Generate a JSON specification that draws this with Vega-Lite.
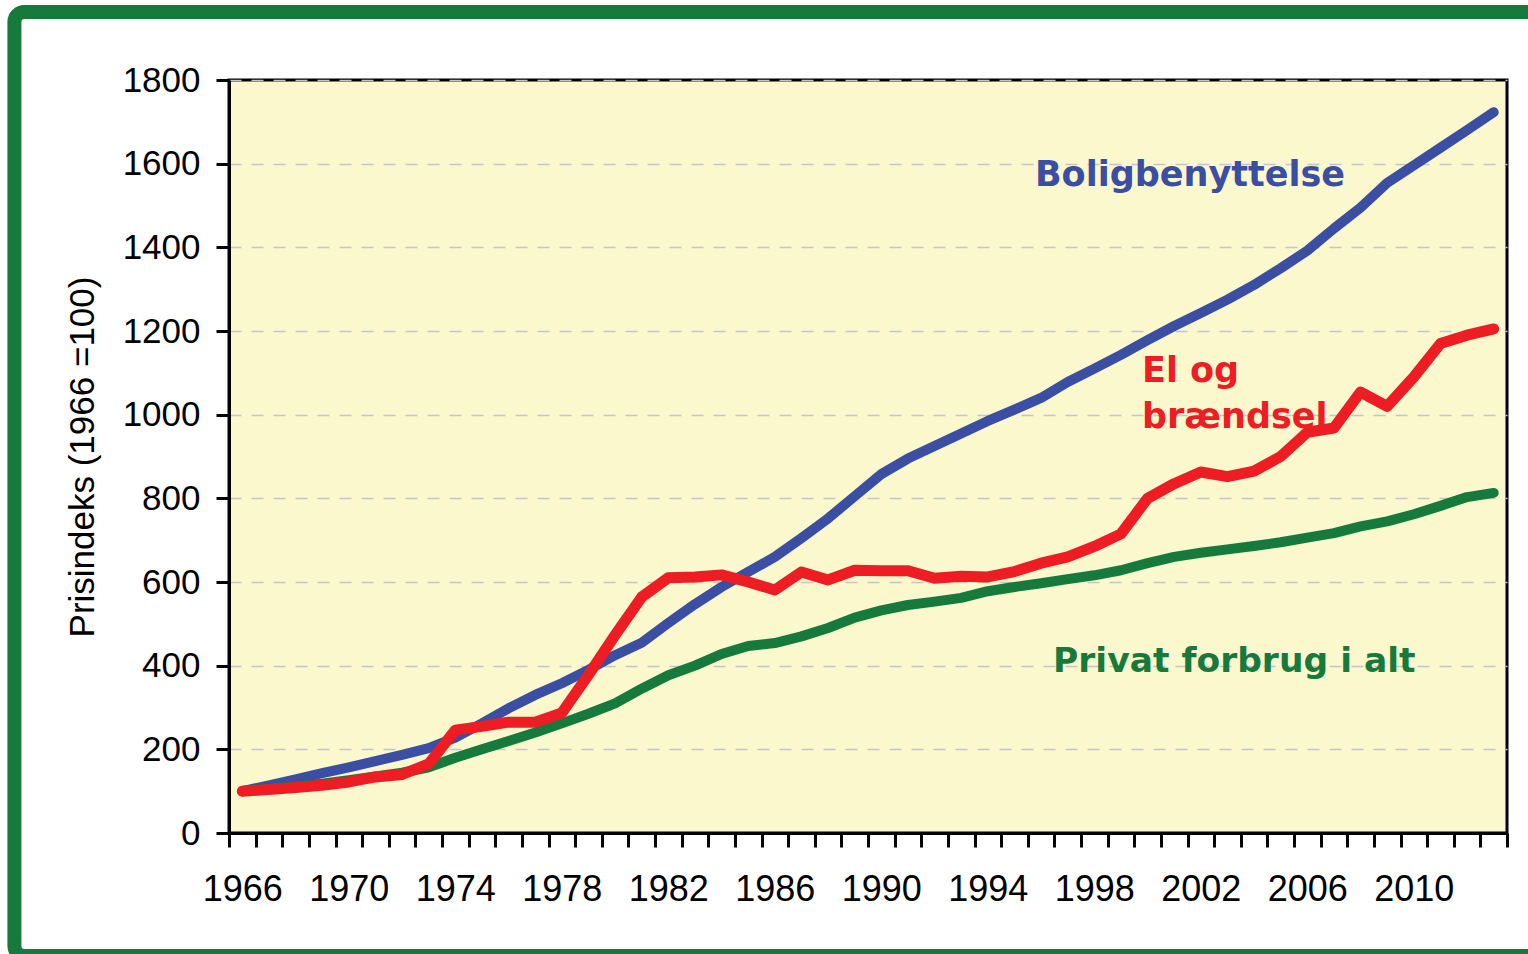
{
  "$schema": "https://vega.github.io/schema/vega-lite/v6.json",
  "width": 1278,
  "height": 753,
  "autosize": "none",
  "padding": {"left": 229, "top": 80, "right": 21, "bottom": 121},
  "background": "white",
  "config": {
    "view": {"fill": "#FAF8CC", "stroke": "#000000", "strokeWidth": 3},
    "axis": {"labelFont": "Liberation Sans", "titleFont": "Liberation Sans", "labelColor": "#000000", "titleColor": "#000000", "domainColor": "#000000", "tickColor": "#000000", "domainWidth": 3, "tickWidth": 3}
  },
  "datasets": {
    "prices": [
      {"year": 1966, "series": "Boligbenyttelse", "value": 100},
      {"year": 1967, "series": "Boligbenyttelse", "value": 114},
      {"year": 1968, "series": "Boligbenyttelse", "value": 128},
      {"year": 1969, "series": "Boligbenyttelse", "value": 143},
      {"year": 1970, "series": "Boligbenyttelse", "value": 157},
      {"year": 1971, "series": "Boligbenyttelse", "value": 172},
      {"year": 1972, "series": "Boligbenyttelse", "value": 187},
      {"year": 1973, "series": "Boligbenyttelse", "value": 203},
      {"year": 1974, "series": "Boligbenyttelse", "value": 228},
      {"year": 1975, "series": "Boligbenyttelse", "value": 262},
      {"year": 1976, "series": "Boligbenyttelse", "value": 298},
      {"year": 1977, "series": "Boligbenyttelse", "value": 330},
      {"year": 1978, "series": "Boligbenyttelse", "value": 358},
      {"year": 1979, "series": "Boligbenyttelse", "value": 390},
      {"year": 1980, "series": "Boligbenyttelse", "value": 425},
      {"year": 1981, "series": "Boligbenyttelse", "value": 455},
      {"year": 1982, "series": "Boligbenyttelse", "value": 502},
      {"year": 1983, "series": "Boligbenyttelse", "value": 547},
      {"year": 1984, "series": "Boligbenyttelse", "value": 588},
      {"year": 1985, "series": "Boligbenyttelse", "value": 624},
      {"year": 1986, "series": "Boligbenyttelse", "value": 660},
      {"year": 1987, "series": "Boligbenyttelse", "value": 705},
      {"year": 1988, "series": "Boligbenyttelse", "value": 752},
      {"year": 1989, "series": "Boligbenyttelse", "value": 805},
      {"year": 1990, "series": "Boligbenyttelse", "value": 858},
      {"year": 1991, "series": "Boligbenyttelse", "value": 895},
      {"year": 1992, "series": "Boligbenyttelse", "value": 925},
      {"year": 1993, "series": "Boligbenyttelse", "value": 955},
      {"year": 1994, "series": "Boligbenyttelse", "value": 985},
      {"year": 1995, "series": "Boligbenyttelse", "value": 1012},
      {"year": 1996, "series": "Boligbenyttelse", "value": 1040},
      {"year": 1997, "series": "Boligbenyttelse", "value": 1078},
      {"year": 1998, "series": "Boligbenyttelse", "value": 1110},
      {"year": 1999, "series": "Boligbenyttelse", "value": 1143},
      {"year": 2000, "series": "Boligbenyttelse", "value": 1178},
      {"year": 2001, "series": "Boligbenyttelse", "value": 1212},
      {"year": 2002, "series": "Boligbenyttelse", "value": 1243},
      {"year": 2003, "series": "Boligbenyttelse", "value": 1275},
      {"year": 2004, "series": "Boligbenyttelse", "value": 1310},
      {"year": 2005, "series": "Boligbenyttelse", "value": 1350},
      {"year": 2006, "series": "Boligbenyttelse", "value": 1392},
      {"year": 2007, "series": "Boligbenyttelse", "value": 1445},
      {"year": 2008, "series": "Boligbenyttelse", "value": 1495},
      {"year": 2009, "series": "Boligbenyttelse", "value": 1554},
      {"year": 2010, "series": "Boligbenyttelse", "value": 1596},
      {"year": 2011, "series": "Boligbenyttelse", "value": 1638},
      {"year": 2012, "series": "Boligbenyttelse", "value": 1680},
      {"year": 2013, "series": "Boligbenyttelse", "value": 1723},
      {"year": 1966, "series": "El og brændsel", "value": 100},
      {"year": 1967, "series": "El og brændsel", "value": 104},
      {"year": 1968, "series": "El og brændsel", "value": 109},
      {"year": 1969, "series": "El og brændsel", "value": 114},
      {"year": 1970, "series": "El og brændsel", "value": 122},
      {"year": 1971, "series": "El og brændsel", "value": 134},
      {"year": 1972, "series": "El og brændsel", "value": 140},
      {"year": 1973, "series": "El og brændsel", "value": 165},
      {"year": 1974, "series": "El og brændsel", "value": 246},
      {"year": 1975, "series": "El og brændsel", "value": 255},
      {"year": 1976, "series": "El og brændsel", "value": 265},
      {"year": 1977, "series": "El og brændsel", "value": 265},
      {"year": 1978, "series": "El og brændsel", "value": 287},
      {"year": 1979, "series": "El og brændsel", "value": 378},
      {"year": 1980, "series": "El og brændsel", "value": 473},
      {"year": 1981, "series": "El og brændsel", "value": 564},
      {"year": 1982, "series": "El og brændsel", "value": 610},
      {"year": 1983, "series": "El og brændsel", "value": 612},
      {"year": 1984, "series": "El og brændsel", "value": 617},
      {"year": 1985, "series": "El og brændsel", "value": 600},
      {"year": 1986, "series": "El og brændsel", "value": 581},
      {"year": 1987, "series": "El og brændsel", "value": 624},
      {"year": 1988, "series": "El og brændsel", "value": 605},
      {"year": 1989, "series": "El og brændsel", "value": 628},
      {"year": 1990, "series": "El og brændsel", "value": 627},
      {"year": 1991, "series": "El og brændsel", "value": 627},
      {"year": 1992, "series": "El og brændsel", "value": 609},
      {"year": 1993, "series": "El og brændsel", "value": 614},
      {"year": 1994, "series": "El og brændsel", "value": 612},
      {"year": 1995, "series": "El og brændsel", "value": 625},
      {"year": 1996, "series": "El og brændsel", "value": 645},
      {"year": 1997, "series": "El og brændsel", "value": 660},
      {"year": 1998, "series": "El og brændsel", "value": 685},
      {"year": 1999, "series": "El og brændsel", "value": 715},
      {"year": 2000, "series": "El og brændsel", "value": 800},
      {"year": 2001, "series": "El og brændsel", "value": 835},
      {"year": 2002, "series": "El og brændsel", "value": 863},
      {"year": 2003, "series": "El og brændsel", "value": 852},
      {"year": 2004, "series": "El og brændsel", "value": 865},
      {"year": 2005, "series": "El og brændsel", "value": 900},
      {"year": 2006, "series": "El og brændsel", "value": 958},
      {"year": 2007, "series": "El og brændsel", "value": 968},
      {"year": 2008, "series": "El og brændsel", "value": 1054},
      {"year": 2009, "series": "El og brændsel", "value": 1020},
      {"year": 2010, "series": "El og brændsel", "value": 1090},
      {"year": 2011, "series": "El og brændsel", "value": 1170},
      {"year": 2012, "series": "El og brændsel", "value": 1190},
      {"year": 2013, "series": "El og brændsel", "value": 1205},
      {"year": 1966, "series": "Privat forbrug i alt", "value": 100},
      {"year": 1967, "series": "Privat forbrug i alt", "value": 106},
      {"year": 1968, "series": "Privat forbrug i alt", "value": 112},
      {"year": 1969, "series": "Privat forbrug i alt", "value": 118},
      {"year": 1970, "series": "Privat forbrug i alt", "value": 126},
      {"year": 1971, "series": "Privat forbrug i alt", "value": 135},
      {"year": 1972, "series": "Privat forbrug i alt", "value": 144},
      {"year": 1973, "series": "Privat forbrug i alt", "value": 157},
      {"year": 1974, "series": "Privat forbrug i alt", "value": 180},
      {"year": 1975, "series": "Privat forbrug i alt", "value": 200},
      {"year": 1976, "series": "Privat forbrug i alt", "value": 220},
      {"year": 1977, "series": "Privat forbrug i alt", "value": 240},
      {"year": 1978, "series": "Privat forbrug i alt", "value": 262},
      {"year": 1979, "series": "Privat forbrug i alt", "value": 285},
      {"year": 1980, "series": "Privat forbrug i alt", "value": 310},
      {"year": 1981, "series": "Privat forbrug i alt", "value": 345},
      {"year": 1982, "series": "Privat forbrug i alt", "value": 377},
      {"year": 1983, "series": "Privat forbrug i alt", "value": 400},
      {"year": 1984, "series": "Privat forbrug i alt", "value": 428},
      {"year": 1985, "series": "Privat forbrug i alt", "value": 447},
      {"year": 1986, "series": "Privat forbrug i alt", "value": 454},
      {"year": 1987, "series": "Privat forbrug i alt", "value": 470},
      {"year": 1988, "series": "Privat forbrug i alt", "value": 490},
      {"year": 1989, "series": "Privat forbrug i alt", "value": 515},
      {"year": 1990, "series": "Privat forbrug i alt", "value": 532},
      {"year": 1991, "series": "Privat forbrug i alt", "value": 545},
      {"year": 1992, "series": "Privat forbrug i alt", "value": 553},
      {"year": 1993, "series": "Privat forbrug i alt", "value": 562},
      {"year": 1994, "series": "Privat forbrug i alt", "value": 578},
      {"year": 1995, "series": "Privat forbrug i alt", "value": 588},
      {"year": 1996, "series": "Privat forbrug i alt", "value": 597},
      {"year": 1997, "series": "Privat forbrug i alt", "value": 607},
      {"year": 1998, "series": "Privat forbrug i alt", "value": 616},
      {"year": 1999, "series": "Privat forbrug i alt", "value": 628},
      {"year": 2000, "series": "Privat forbrug i alt", "value": 645},
      {"year": 2001, "series": "Privat forbrug i alt", "value": 660},
      {"year": 2002, "series": "Privat forbrug i alt", "value": 670},
      {"year": 2003, "series": "Privat forbrug i alt", "value": 678},
      {"year": 2004, "series": "Privat forbrug i alt", "value": 686},
      {"year": 2005, "series": "Privat forbrug i alt", "value": 695},
      {"year": 2006, "series": "Privat forbrug i alt", "value": 706},
      {"year": 2007, "series": "Privat forbrug i alt", "value": 717},
      {"year": 2008, "series": "Privat forbrug i alt", "value": 733},
      {"year": 2009, "series": "Privat forbrug i alt", "value": 745},
      {"year": 2010, "series": "Privat forbrug i alt", "value": 762},
      {"year": 2011, "series": "Privat forbrug i alt", "value": 782},
      {"year": 2012, "series": "Privat forbrug i alt", "value": 803},
      {"year": 2013, "series": "Privat forbrug i alt", "value": 813}
    ]
  },
  "layer": [
    {
      "data": {"name": "prices"},
      "encoding": {
        "x": {
          "field": "year",
          "type": "quantitative",
          "title": null,
          "scale": {"domain": [1965.5, 2013.5], "nice": false, "zero": false},
          "axis": {
            "title": null,
            "grid": false,
            "tickCount": 100,
            "values": [1965.5, 1966.5, 1967.5, 1968.5, 1969.5, 1970.5, 1971.5, 1972.5, 1973.5, 1974.5, 1975.5, 1976.5, 1977.5, 1978.5, 1979.5, 1980.5, 1981.5, 1982.5, 1983.5, 1984.5, 1985.5, 1986.5, 1987.5, 1988.5, 1989.5, 1990.5, 1991.5, 1992.5, 1993.5, 1994.5, 1995.5, 1996.5, 1997.5, 1998.5, 1999.5, 2000.5, 2001.5, 2002.5, 2003.5, 2004.5, 2005.5, 2006.5, 2007.5, 2008.5, 2009.5, 2010.5, 2011.5, 2012.5, 2013.5],
            "labelExpr": "(datum.value < 2013 && (datum.value + 0.5 - 1966) % 4 == 0) ? format(datum.value + 0.5, 'd') : ''",
            "labelOffset": 13.3,
            "labelFlush": false,
            "labelOverlap": false,
            "labelBound": false,
            "labelFontSize": 36,
            "labelPadding": 25,
            "tickSize": 14
          }
        },
        "y": {
          "field": "value",
          "type": "quantitative",
          "title": "Prisindeks (1966 =100)",
          "scale": {"domain": [0, 1800], "nice": false},
          "axis": {
            "title": "Prisindeks (1966 =100)",
            "titleFontSize": 35,
            "titleFontWeight": "normal",
            "titlePadding": 22,
            "values": [0, 200, 400, 600, 800, 1000, 1200, 1400, 1600, 1800],
            "format": "d",
            "labelFontSize": 35,
            "labelPadding": 16,
            "tickSize": 13,
            "grid": true,
            "gridColor": "#C4C4CC",
            "gridDash": [12, 10],
            "gridWidth": 1.5
          }
        },
        "color": {
          "field": "series",
          "type": "nominal",
          "scale": {"domain": ["Boligbenyttelse", "El og brændsel", "Privat forbrug i alt"], "range": ["#3A4EA3", "#EE1D24", "#167A3C"]},
          "legend": null
        }
      },
      "layer": [
        {
          "transform": [{"filter": "datum.series == 'Boligbenyttelse'"}],
          "mark": {"type": "line", "strokeWidth": 10, "strokeCap": "round", "strokeJoin": "round"}
        },
        {
          "transform": [{"filter": "datum.series == 'Privat forbrug i alt'"}],
          "mark": {"type": "line", "strokeWidth": 10, "strokeCap": "round", "strokeJoin": "round"}
        },
        {
          "transform": [{"filter": "datum.series == 'El og brændsel'"}],
          "mark": {"type": "line", "strokeWidth": 11, "strokeCap": "round", "strokeJoin": "round"}
        }
      ]
    },
    {
      "data": {"values": [{"label": "Boligbenyttelse"}]},
      "mark": {"type": "text", "align": "left", "baseline": "alphabetic", "font": "DejaVu Sans", "fontWeight": "bold", "fontSize": 35, "fill": "#3A4EA3", "clip": false},
      "encoding": {
        "x": {"datum": 1995.77, "type": "quantitative", "title": null},
        "y": {"datum": 1547, "type": "quantitative", "title": "Prisindeks (1966 =100)"},
        "text": {"field": "label"}
      }
    },
    {
      "data": {"values": [{"label": "El og"}]},
      "mark": {"type": "text", "align": "left", "baseline": "alphabetic", "font": "DejaVu Sans", "fontWeight": "bold", "fontSize": 35, "fill": "#EE1D24", "clip": false},
      "encoding": {
        "x": {"datum": 1999.79, "type": "quantitative", "title": null},
        "y": {"datum": 1078, "type": "quantitative", "title": "Prisindeks (1966 =100)"},
        "text": {"field": "label"}
      }
    },
    {
      "data": {"values": [{"label": "brændsel"}]},
      "mark": {"type": "text", "align": "left", "baseline": "alphabetic", "font": "DejaVu Sans", "fontWeight": "bold", "fontSize": 35, "fill": "#EE1D24", "clip": false},
      "encoding": {
        "x": {"datum": 1999.79, "type": "quantitative", "title": null},
        "y": {"datum": 968, "type": "quantitative", "title": "Prisindeks (1966 =100)"},
        "text": {"field": "label"}
      }
    },
    {
      "data": {"values": [{"label": "Privat forbrug i alt"}]},
      "mark": {"type": "text", "align": "left", "baseline": "alphabetic", "font": "DejaVu Sans", "fontWeight": "bold", "fontSize": 34.5, "fill": "#167A3C", "clip": false},
      "encoding": {
        "x": {"datum": 1996.45, "type": "quantitative", "title": null},
        "y": {"datum": 385, "type": "quantitative", "title": "Prisindeks (1966 =100)"},
        "text": {"field": "label"}
      }
    },
    {
      "data": {"values": [{}]},
      "mark": {"type": "rect", "fillOpacity": 0, "stroke": "#167A3D", "strokeWidth": 14, "cornerRadius": 10, "clip": false},
      "encoding": {
        "x": {"datum": 1957.44, "type": "quantitative", "title": null},
        "x2": {"datum": 2014.8},
        "y": {"datum": 1962.6, "type": "quantitative", "title": "Prisindeks (1966 =100)"},
        "y2": {"datum": -294}
      }
    }
  ]
}
